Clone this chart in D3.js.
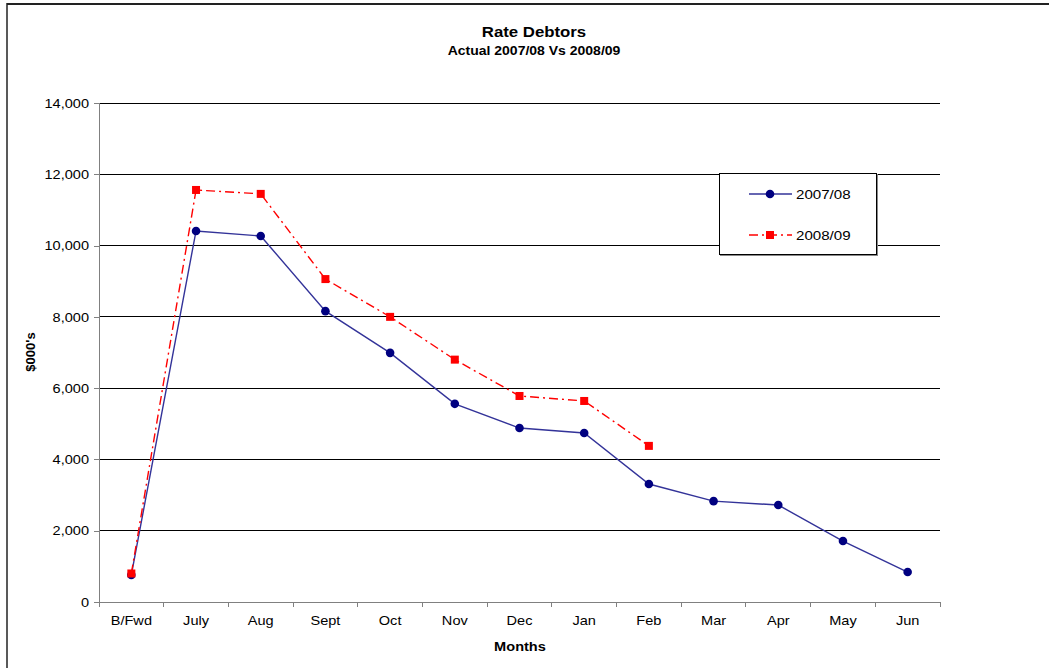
<!DOCTYPE html>
<html>
<head>
<meta charset="utf-8">
<script src="https://cdn.jsdelivr.net/npm/d3@7"></script>
<style>
  body { margin: 0; background: #fff; }
  text { font-family: "Liberation Sans", Arial, sans-serif; }
</style>
</head>
<body>
<svg id="chart" width="1049" height="668"></svg>
<script>
const months = ["B/Fwd", "July", "Aug", "Sept", "Oct", "Nov", "Dec", "Jan", "Feb", "Mar", "Apr", "May", "Jun"];
const actual0708 = [760, 10410, 10270, 8160, 6990, 5560, 4880, 4740, 3310, 2830, 2720, 1710, 840];
const actual0809 = [800, 11560, 11450, 9060, 8000, 6800, 5780, 5640, 4380];
const yTicks = [0, 2000, 4000, 6000, 8000, 10000, 12000, 14000];

const svg = d3.select("#chart");
const plotLeft = 99, plotRight = 940, plotTop = 103, plotBottom = 602;
const SX = 1.12; // the original is a little wide, text looks stretched

// widen text horizontally about its own x
function stretch(sel) {
  sel.each(function () {
    const t = d3.select(this);
    const x = +t.attr("x") || 0;
    t.attr("transform", `translate(${x},0) scale(${SX},1) translate(${-x},0)`);
  });
}

// outer frame (top and left edges visible)
svg.append("line").attr("x1", 7).attr("x2", 1049).attr("y1", 4).attr("y2", 4)
  .attr("stroke", "#222").attr("stroke-width", 2);
svg.append("line").attr("x1", 7).attr("x2", 7).attr("y1", 3).attr("y2", 668)
  .attr("stroke", "#222").attr("stroke-width", 1.5);

const xScale = d3.scaleBand().domain(months).range([plotLeft, plotRight]).padding(0);
const yScale = d3.scaleLinear().domain([0, 14000]).range([plotBottom, plotTop]);
const xc = (m) => xScale(m) + xScale.bandwidth() / 2;

// gridlines
svg.append("g")
  .selectAll("line")
  .data(yTicks.filter((t) => t > 0))
  .join("line")
  .attr("x1", plotLeft).attr("x2", plotRight)
  .attr("y1", (t) => yScale(t)).attr("y2", (t) => yScale(t))
  .attr("stroke", "#000").attr("stroke-width", 1).attr("shape-rendering", "crispEdges");

// y axis
const yAxis = svg.append("g")
  .attr("transform", `translate(${plotLeft},0)`)
  .call(d3.axisLeft(yScale).tickValues(yTicks).tickSize(5).tickPadding(5)
    .tickFormat(d3.format(",")));
yAxis.selectAll("path, line").attr("stroke", "#808080").attr("shape-rendering", "crispEdges");
yAxis.selectAll("text").attr("font-size", 13).attr("fill", "#000")
  .style("font-family", "'Liberation Sans', Arial, sans-serif")
  .call(stretch);

// x axis
const xAxis = svg.append("g")
  .attr("transform", `translate(0,${plotBottom})`)
  .call(d3.axisBottom(xScale).tickSize(0).tickPadding(14));
xAxis.select("path").attr("stroke", "#808080").attr("shape-rendering", "crispEdges");
xAxis.selectAll("text").attr("font-size", 13).attr("fill", "#000")
  .style("font-family", "'Liberation Sans', Arial, sans-serif")
  .call(stretch);
xAxis.selectAll(".bnd")
  .data(months.concat(["end"]))
  .join("line")
  .attr("class", "bnd")
  .attr("x1", (m, i) => plotLeft + i * xScale.bandwidth())
  .attr("x2", (m, i) => plotLeft + i * xScale.bandwidth())
  .attr("y1", 0).attr("y2", 5)
  .attr("stroke", "#808080").attr("shape-rendering", "crispEdges");

// series 2007/08
const line = d3.line().x((d, i) => xc(months[i])).y((d) => yScale(d));
svg.append("path")
  .datum(actual0708)
  .attr("d", line)
  .attr("fill", "none")
  .attr("stroke", "#333399")
  .attr("stroke-width", 1.4);
svg.append("g")
  .selectAll("circle")
  .data(actual0708)
  .join("circle")
  .attr("cx", (d, i) => xc(months[i]))
  .attr("cy", (d) => yScale(d))
  .attr("r", 4.3)
  .attr("fill", "#000080");

// series 2008/09
svg.append("path")
  .datum(actual0809)
  .attr("d", line)
  .attr("fill", "none")
  .attr("stroke", "#ff0000")
  .attr("stroke-width", 1.4)
  .attr("stroke-dasharray", "9,4,2,4");
svg.append("g")
  .selectAll("rect")
  .data(actual0809)
  .join("rect")
  .attr("x", (d, i) => xc(months[i]) - 4)
  .attr("y", (d) => yScale(d) - 4)
  .attr("width", 8)
  .attr("height", 8)
  .attr("fill", "#ff0000");

// titles
svg.append("text").attr("x", 534).attr("y", 37).attr("text-anchor", "middle")
  .attr("font-size", 15).attr("font-weight", "bold").text("Rate Debtors").call(stretch);
svg.append("text").attr("x", 534).attr("y", 55).attr("text-anchor", "middle")
  .attr("font-size", 12.5).attr("font-weight", "bold").text("Actual 2007/08 Vs 2008/09").call(stretch);
svg.append("text").attr("x", 520).attr("y", 651).attr("text-anchor", "middle")
  .attr("font-size", 13).attr("font-weight", "bold").text("Months").call(stretch);
svg.append("text").attr("transform", "translate(35,352) rotate(-90)")
  .attr("text-anchor", "middle")
  .attr("font-size", 13).attr("font-weight", "bold").text("$000's");

// legend
const lg = svg.append("g");
lg.append("rect").attr("x", 720).attr("y", 174).attr("width", 158).attr("height", 82)
  .attr("fill", "#888");
lg.append("rect").attr("x", 719.5).attr("y", 173.5).attr("width", 157).attr("height", 81)
  .attr("fill", "#fff").attr("stroke", "#000").attr("stroke-width", 1);
const legendItems = [
  { name: "2007/08", y: 194 },
  { name: "2008/09", y: 235 }
];
legendItems.forEach((it, i) => {
  const ln = lg.append("line").attr("x1", 749).attr("x2", 792)
    .attr("y1", it.y).attr("y2", it.y).attr("stroke-width", 1.4);
  if (i === 0) {
    ln.attr("stroke", "#333399");
    lg.append("circle").attr("cx", 770).attr("cy", it.y).attr("r", 4.3).attr("fill", "#000080");
  } else {
    ln.attr("stroke", "#ff0000").attr("stroke-dasharray", "9,4,2,4");
    lg.append("rect").attr("x", 766).attr("y", it.y - 4).attr("width", 8).attr("height", 8)
      .attr("fill", "#ff0000");
  }
  lg.append("text").attr("x", 796).attr("y", it.y + 5).attr("font-size", 13.5).text(it.name).call(stretch);
});
</script>
</body>
</html>
